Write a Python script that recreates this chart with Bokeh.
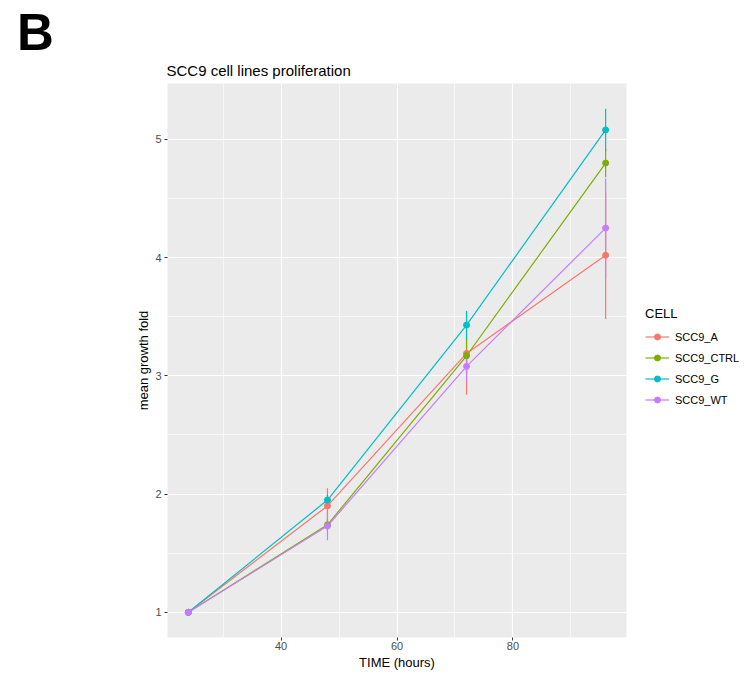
from bokeh.plotting import figure
from bokeh.models import (ColumnDataSource, Legend, LegendItem, FixedTicker, Range1d, Div)
from bokeh.layouts import column
from bokeh.embed import file_html
from bokeh.resources import INLINE

time = [24, 48, 72, 96]
cells = ["SCC9_A", "SCC9_CTRL", "SCC9_G", "SCC9_WT"]
colors = ["#F8766D", "#7CAE00", "#00BFC4", "#C77CFF"]
mean_A = [1.0, 1.90, 3.19, 4.02]
mean_CTRL = [1.0, 1.74, 3.17, 4.80]
mean_G = [1.0, 1.95, 3.43, 5.08]
mean_WT = [1.0, 1.73, 3.08, 4.25]
sd_A = [0.0, 0.15, 0.35, 0.54]
sd_CTRL = [0.0, 0.05, 0.15, 0.12]
sd_G = [0.0, 0.05, 0.12, 0.18]
sd_WT = [0.0, 0.12, 0.13, 0.42]
x_ticks = [40, 60, 80]
x_minor = [30, 50, 70, 90]
y_ticks = [1, 2, 3, 4, 5]
y_minor = [1.5, 2.5, 3.5, 4.5]

means = [mean_A, mean_CTRL, mean_G, mean_WT]
sds = [sd_A, sd_CTRL, sd_G, sd_WT]

xlo, xhi = min(time), max(time)
xpad = (xhi - xlo) * 0.05
ylo = min(m - s for mm, ss in zip(means, sds) for m, s in zip(mm, ss))
yhi = max(m + s for mm, ss in zip(means, sds) for m, s in zip(mm, ss))
ypad = (yhi - ylo) * 0.05

p = figure(frame_width=459, frame_height=554, output_backend="svg", toolbar_location=None,
           x_range=Range1d(xlo - xpad, xhi + xpad), y_range=Range1d(ylo - ypad, yhi + ypad),
           min_border_left=167, min_border_right=115, min_border_top=43, min_border_bottom=48,
           title="SCC9 cell lines proliferation")
p.background_fill_color = "#EBEBEB"
p.border_fill_color = None
p.outline_line_color = None
p.title.text_font = "Liberation Sans"
p.title.text_font_size = "15px"
p.title.text_font_style = "normal"
p.title.text_color = "black"
p.title.align = "left"
p.title.offset = -1
p.title.standoff = 10

for ax in (p.xaxis[0], p.yaxis[0]):
    ax.axis_line_color = None
    ax.major_tick_line_color = "#333333"
    ax.major_tick_line_width = 1
    ax.major_tick_out = 3
    ax.major_tick_in = 0
    ax.minor_tick_line_color = None
    ax.major_label_text_color = "#4D4D4D"
    ax.major_label_text_font = "Liberation Sans"
    ax.major_label_text_font_size = "11px"
    ax.axis_label_text_font = "Liberation Sans"
    ax.axis_label_text_font_size = "13px"
    ax.axis_label_text_font_style = "normal"
    ax.axis_label_text_color = "black"

p.xaxis.ticker = FixedTicker(ticks=x_ticks, minor_ticks=x_minor)
p.yaxis.ticker = FixedTicker(ticks=y_ticks, minor_ticks=y_minor)
p.xaxis.axis_label = "TIME (hours)"
p.yaxis.axis_label = "mean growth fold"
p.xaxis.major_label_standoff = 0
p.yaxis.major_label_standoff = 2
p.xaxis.axis_label_standoff = 2
p.yaxis.axis_label_standoff = 1

p.grid.grid_line_color = "white"
p.grid.grid_line_width = 1.2
p.grid.minor_grid_line_color = "white"
p.grid.minor_grid_line_width = 0.6

line_r = []
for name, col, m in zip(cells, colors, means):
    src = ColumnDataSource(dict(x=time, y=m))
    line_r.append(p.line("x", "y", source=src, line_color=col, line_width=1.2))

for name, col, m, s in zip(cells, colors, means, sds):
    src = ColumnDataSource(dict(x=time, y0=[a - b for a, b in zip(m, s)], y1=[a + b for a, b in zip(m, s)]))
    p.segment(x0="x", y0="y0", x1="x", y1="y1", source=src, line_color=col, line_width=1.2)

pt_r = []
for name, col, m in zip(cells, colors, means):
    src = ColumnDataSource(dict(x=time, y=m))
    pt_r.append(p.scatter("x", "y", source=src, size=6, fill_color=col, line_color=col))

items = [LegendItem(label=n, renderers=[l, c]) for n, l, c in zip(cells, line_r, pt_r)]
legend = Legend(items=items, location=(19, 230), title="CELL",
                title_text_font="Liberation Sans", title_text_font_size="13px",
                title_text_font_style="normal", title_text_color="black", title_standoff=8,
                label_text_font="Liberation Sans", label_text_font_size="11px", label_text_color="black",
                glyph_width=24, glyph_height=15, spacing=6, label_standoff=6,
                padding=0, margin=0, border_line_color=None, background_fill_alpha=0)
p.add_layout(legend, "right")

tag = Div(text="<div style=\"font-family:'Liberation Sans';font-weight:bold;font-size:51px;"
               "line-height:51px;padding:7px 0 0 17px;color:black;\">B</div>",
          width=120, height=40, margin=0)

open("out.html", "w").write(file_html(column(tag, p, spacing=0), INLINE))
